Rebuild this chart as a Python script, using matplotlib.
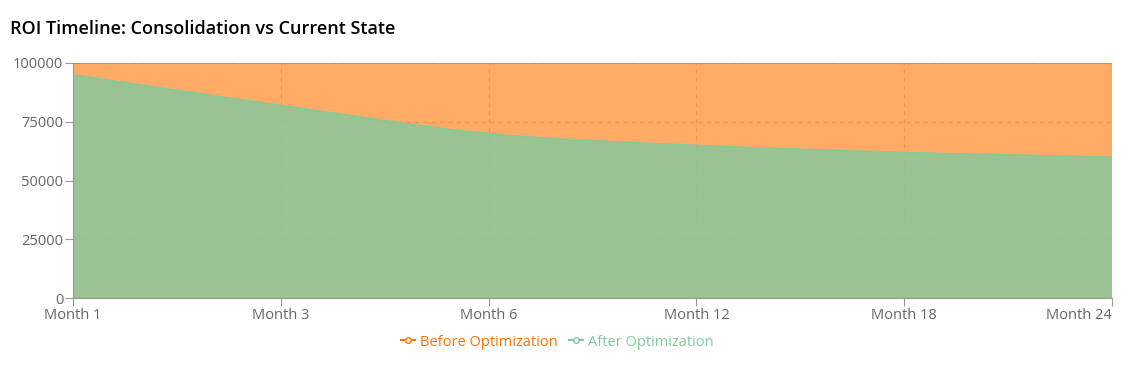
import numpy as np
import matplotlib.pyplot as plt
from matplotlib.path import Path
from matplotlib.patches import PathPatch
from matplotlib.lines import Line2D

plt.rcParams['font.family'] = ['Open Sans', 'DejaVu Sans']

months = ["Month 1", "Month 3", "Month 6", "Month 12", "Month 18", "Month 24"]
before_opt = [100000, 100000, 100000, 100000, 100000, 100000]
after_opt = [95000, 82000, 70000, 65000, 62000, 60000]
y_ticks = [0, 25000, 50000, 75000, 100000]

ORANGE = "#ff7300"
GREEN = "#82ca9d"
AXIS = "#666666"


def monotone_path(xs, ys):
    # d3 curveMonotoneX as cubic bezier segments
    xs = np.asarray(xs, float)
    ys = np.asarray(ys, float)
    n = len(xs)
    h = np.diff(xs)
    s = np.diff(ys) / h
    t = np.zeros(n)
    for i in range(1, n - 1):
        if s[i - 1] * s[i] <= 0:
            t[i] = 0
        else:
            p = (s[i - 1] * h[i] + s[i] * h[i - 1]) / (h[i - 1] + h[i])
            t[i] = (np.sign(s[i - 1]) + np.sign(s[i])) * min(abs(s[i - 1]), abs(s[i]), 0.5 * abs(p))
    t[0] = (3 * s[0] - t[1]) / 2 if n > 2 else s[0]
    t[-1] = (3 * s[-1] - t[-2]) / 2 if n > 2 else s[-1]
    verts = [(xs[0], ys[0])]
    codes = [Path.MOVETO]
    for i in range(n - 1):
        dx = h[i] / 3
        verts += [(xs[i] + dx, ys[i] + dx * t[i]),
                  (xs[i + 1] - dx, ys[i + 1] - dx * t[i + 1]),
                  (xs[i + 1], ys[i + 1])]
        codes += [Path.CURVE4] * 3
    return verts, codes


def draw_area(ax, xs, ys, color, alpha, z):
    verts, codes = monotone_path(xs, ys)
    fill_verts = verts + [(xs[-1], 0), (xs[0], 0), verts[0]]
    fill_codes = codes + [Path.LINETO, Path.LINETO, Path.CLOSEPOLY]
    ax.add_patch(PathPatch(Path(fill_verts, fill_codes), facecolor=color,
                           edgecolor='none', alpha=alpha, zorder=z))
    ax.add_patch(PathPatch(Path(verts, codes), facecolor='none',
                           edgecolor=color, lw=1, zorder=z + 0.1))


fig = plt.figure(figsize=(11.4, 3.74), dpi=100)
ax = fig.add_axes([73 / 1140, 1 - 298 / 374, (1112 - 73) / 1140, (298 - 63) / 374])

x = np.arange(len(months))
draw_area(ax, x, before_opt, ORANGE, 0.6, 2)
draw_area(ax, x, after_opt, GREEN, 0.8, 3)

ax.set_xlim(0, len(months) - 1)
ax.set_ylim(0, 100000)
ax.set_xticks(x)
ax.set_xticklabels(months)
ax.set_yticks(y_ticks)
ax.set_yticklabels([str(v) for v in y_ticks])

ax.grid(True, color="#cccccc", linestyle=(0, (3, 3)), lw=1, zorder=1)
ax.set_axisbelow(True)
for side in ['top', 'right']:
    ax.spines[side].set_visible(False)
for side in ['left', 'bottom']:
    ax.spines[side].set_color("#999999")
    ax.spines[side].set_zorder(5)
ax.tick_params(colors="#999999", labelcolor=AXIS, labelsize=10.5, length=6, pad=1)
# last category label sits flush with the right edge, as in the reference
ax.get_xticklabels()[-1].set_horizontalalignment('right')

fig.text(10 / 1140, 1 - 29 / 374, "ROI Timeline: Consolidation vs Current State",
         fontsize=13, fontweight='semibold', color='black', va='center', ha='left')

handles = [Line2D([], [], color=ORANGE, marker='o', markerfacecolor='white', markersize=4, lw=1.5),
           Line2D([], [], color=GREEN, marker='o', markerfacecolor='white', markersize=4, lw=1.5)]
leg = fig.legend(handles, ["Before Optimization", "After Optimization"], loc='center',
                 bbox_to_anchor=(557 / 1140, 1 - 342 / 374), ncol=2, frameon=False,
                 fontsize=10.5, handlelength=1.0, handletextpad=0.3, columnspacing=0.8)
for txt, c in zip(leg.get_texts(), [ORANGE, GREEN]):
    txt.set_color(c)

fig.savefig("out.png", dpi=100)
